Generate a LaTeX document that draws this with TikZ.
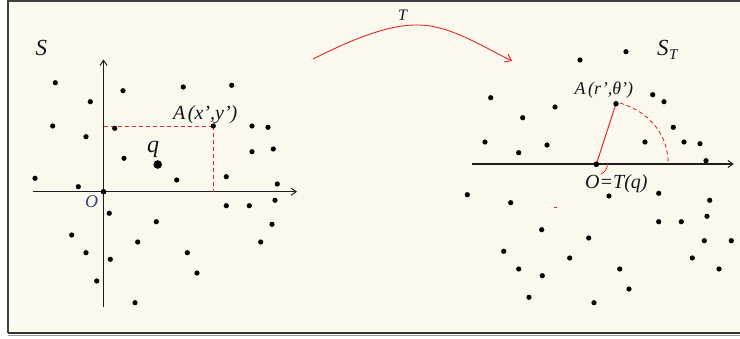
\documentclass[tikz,border=0pt]{standalone}
\usepackage{fontspec}
\setmainfont{Liberation Serif}
\usetikzlibrary{arrows.meta}
\definecolor{bg}{HTML}{FBF8EE}
\definecolor{rd}{HTML}{E8262A}
\definecolor{ink}{HTML}{14141E}
\definecolor{oblue}{HTML}{2E4275}
\definecolor{axiscol}{HTML}{1E1E1E}
\newcommand{\fsz}[1]{\fontsize{#1}{#1}\selectfont}
\begin{document}
\begin{tikzpicture}[x=1pt,y=-1pt,
  lbl/.style={text=ink,inner sep=0pt,anchor=base west},
  axisline/.style={draw=axiscol,line width=1.1pt},
  axisarrow/.style={axisline,-{Straight Barb[length=5pt,width=7pt,line width=1pt]}},
  reddash/.style={draw=rd,line width=0.9pt,dash pattern=on 4pt off 3pt},
  redline/.style={draw=rd,line width=1pt},
  pt/.style={fill=black}]
\useasboundingbox (0,0) rectangle (740,339);
% background and frame
\fill[white] (0,0) rectangle (740,339);
\fill[bg] (8.5,2.5) rectangle (740,332.5);
\draw[draw=black!75,line width=2pt] (7.5,333) -- (7.5,1.5) -- (740,1.5);
\draw[draw=black!80,line width=2pt] (7.5,333) -- (740,333);
\draw[draw=black!40,line width=1.2pt] (7.5,335.5) -- (740,335.5);

% ---------------- left panel ----------------
\coordinate (O1) at (103.5,191.7);
\coordinate (A1) at (213.3,126);
\coordinate (Q) at (157.7,164.5);
\coordinate (xl) at (32.7,191.7);
\coordinate (xr) at (297,191.7);
\coordinate (yb) at (103.5,306.7);
\coordinate (yt) at (103.5,59.5);
\coordinate (Ay) at (103.5,126);
\coordinate (Ax) at (213.3,191.7);

\draw[axisarrow] (xl) -- (xr);
\draw[axisarrow] (yb) -- (yt);
\draw[reddash] (Ay) -- (A1);
\draw[reddash] (A1) -- (Ax);

\foreach \p in {(55.3,82.7),(123,90.7),(183.3,87),(231.7,85.3),(90.3,101.7),(52.7,126),(86,136.7),(114.7,128.3),(252,126),(268,127.3),(252,151.7),(273.3,149),(124,158.3),(35,178.3),(78.3,186.7),(176.7,180),(226.3,176.7),(277.3,184),(109.3,213.3),(156.3,221.7),(226.3,205.7),(249.3,205.7),(275,200.3),(272,224.3),(71.7,235),(137.7,242),(260.7,242),(86,252.7),(187.3,252.7),(110.3,259.3),(197,273),(96.7,281),(135,302.7)}
  \fill[pt] \p circle (2.6pt);
\fill[pt] (O1) circle (2.8pt);
\fill[pt] (A1) circle (2.6pt);
\fill[pt] (Q) circle (4.3pt);

\node[lbl,font=\itshape\fsz{23}] (labS) at (35.5,56) {S};
\node[lbl,font=\itshape\fsz{24}] (labq) at (147,152.5) {q};
\node[lbl,font=\itshape\fsz{20}] (labA1) at (173,120) {A\kern2.5pt(x’,y’)};
\node[lbl,text=oblue,font=\itshape\fsz{18}] (labO1) at (85,207.5) {O};

% ---------------- transformation arrow ----------------
\coordinate (Ts) at (313,59);
\coordinate (Tm) at (420,25);
\coordinate (Te) at (512,61);
\draw[redline,line width=0.9pt,-{Straight Barb[length=6pt,width=9pt,line width=0.9pt]}]
  (Ts) .. controls (355,38) and (390,24) .. (Tm) .. controls (450,26) and (480,45) .. (Te);
\node[lbl,font=\itshape\fsz{16}] (labT) at (398,20.7) {T};

% ---------------- right panel ----------------
\coordinate (O2) at (596.3,164.3);
\coordinate (A2) at (616,103.7);
\coordinate (xl2) at (471.7,164);
\coordinate (xr2) at (733.8,164);
\coordinate (arcS) at (620,103);
\coordinate (arcE) at (668.3,164);

\draw[axisarrow] (xl2) -- (xr2);
\draw[redline] (O2) -- (A2);
\draw[redline,line width=0.8pt] (607.5,164) arc[start angle=0,end angle=68,radius=11];
\draw[reddash] (arcS) .. controls (650,112) and (668,135) .. (arcE);
\draw[rd,line width=0.8pt] (554,207.7) -- (556.5,207.7);

\foreach \p in {(580,60),(626,51.7),(490.7,97.7),(555,107),(522.7,117.7),(652.7,94.7),(664,101.7),(673.3,127.3),(645,142),(684,142),(700,143.7),(485,142),(518.7,152.7),(547,145),(706,160.7),(467.3,194.7),(510.7,202.7),(609,196),(658.7,193.3),(709.7,200.3),(707,216.3),(658.7,221.7),(681.3,221.7),(541.7,229.7),(588.7,238),(704.3,240.7),(731.3,240.7),(503.7,251.3),(569.7,258),(692.3,258),(518.7,269),(619.7,269),(719,269),(542.3,275.7),(629,289),(529,297.3),(594,302.7)}
  \fill[pt] \p circle (2.6pt);
\fill[pt] (O2) circle (2.9pt);
\fill[pt] (A2) circle (2.7pt);

\node[lbl,font=\itshape\fsz{23}] (labST) at (657,56) {S\kern0.5pt\raisebox{-4pt}{\fsz{15}T}};
\node[lbl,font=\itshape\fsz{18}] (labA2) at (574.5,95) {A\kern2.5pt(r’,θ’)};
\node[lbl,font=\itshape\fsz{20}] (labO2) at (585,188.3) {O=T(q)};
\end{tikzpicture}
\end{document}
